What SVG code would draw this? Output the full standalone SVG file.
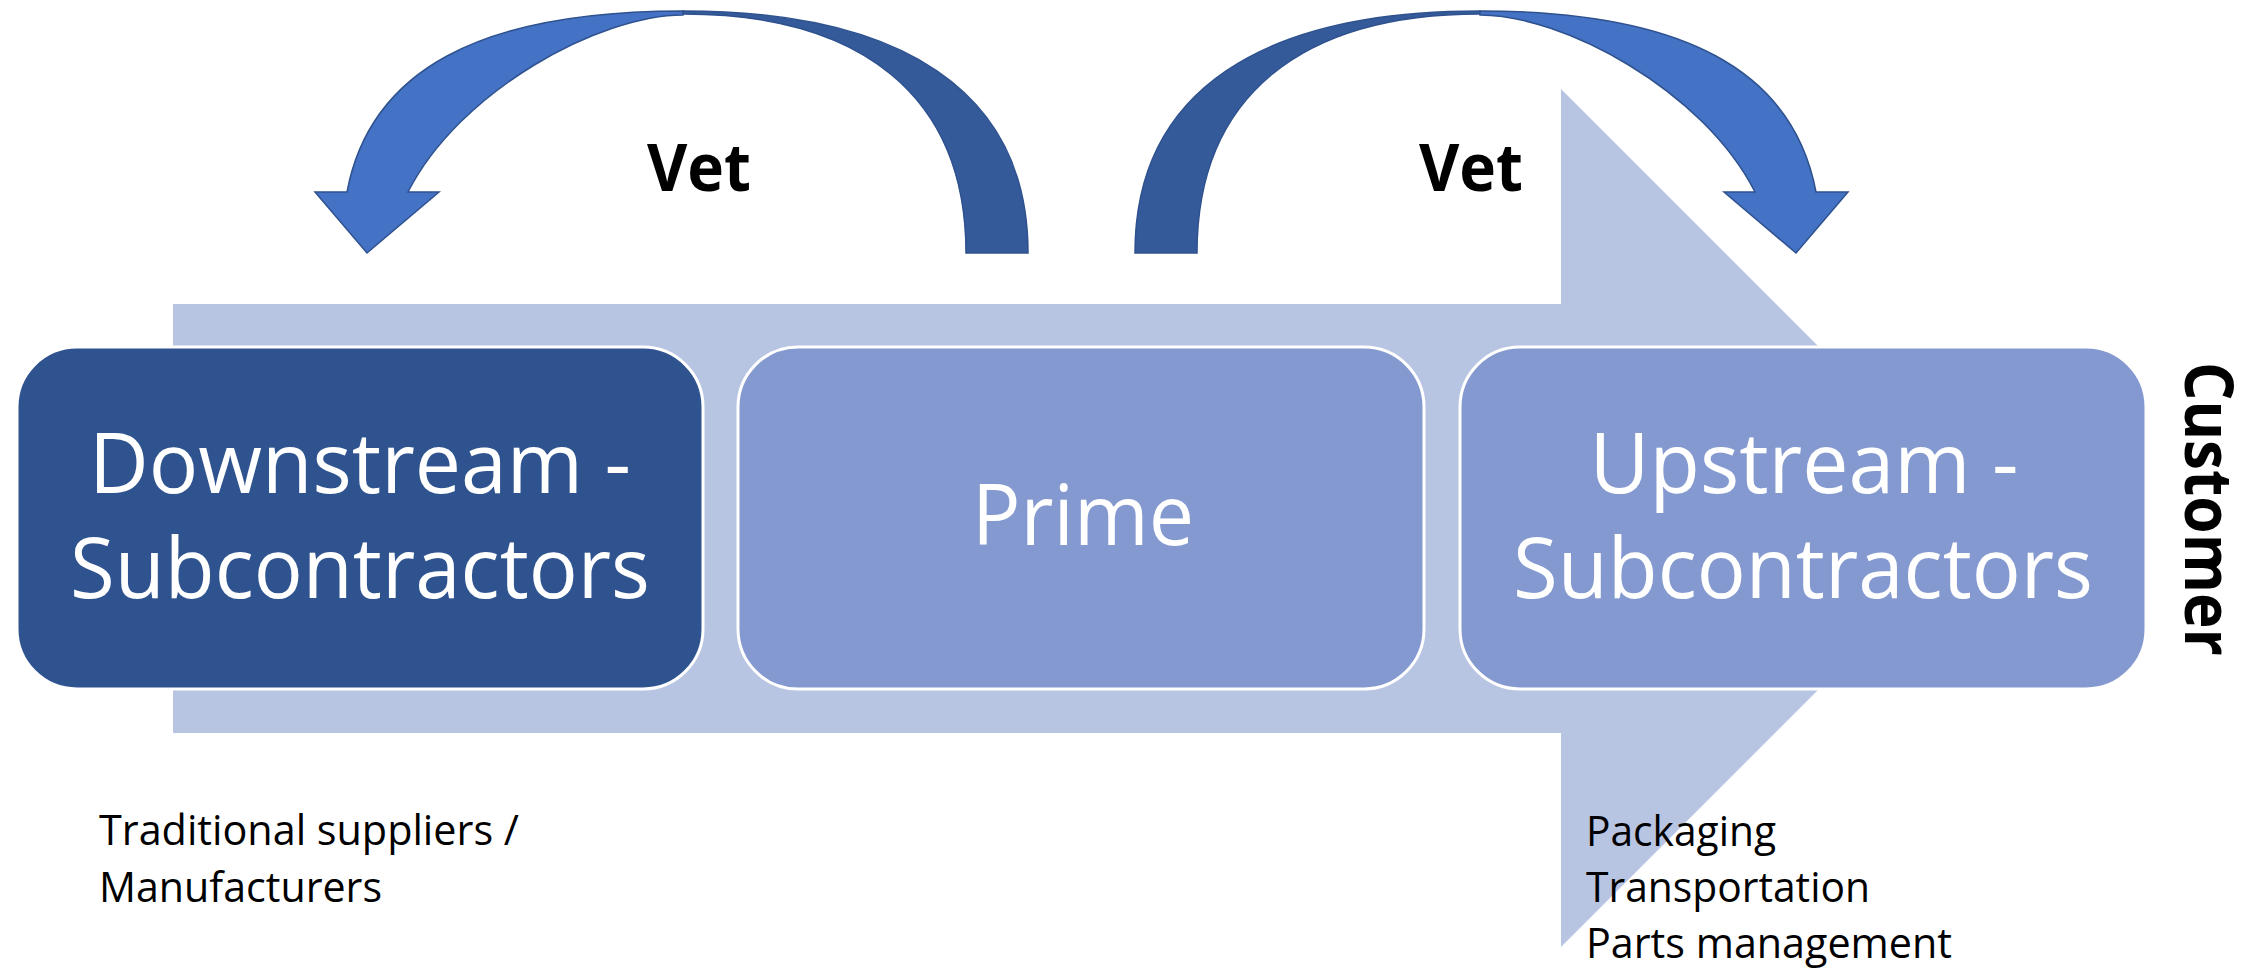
<svg xmlns="http://www.w3.org/2000/svg" width="2260" height="969" viewBox="0 0 2260 969">
  <style>
    .flow { fill: #B7C4E2; }
    .box { stroke: #FFFFFF; stroke-width: 3; }
    .dark { fill: #2F538F; }
    .mid { fill: #8499CF; }
    .lbl { font-family: "Open Sans", "Noto Sans", "Liberation Sans", sans-serif; font-size: 84px; fill: #FFFFFF; text-anchor: middle; }
    .note { font-family: "Open Sans", "Noto Sans", "Liberation Sans", sans-serif; font-size: 42px; fill: #000000; }
    .bold { font-family: "Open Sans", "Noto Sans", "Liberation Sans", sans-serif; font-weight: bold; fill: #000000; text-anchor: middle; }
    .back { fill: #355A9A; stroke: #2F528F; stroke-width: 1.5; }
    .front { fill: #4472C4; stroke: #2F528F; stroke-width: 1.5; }
  </style>
  <defs>
    <g id="curved">
      <path class="back" d="M 1028 253 C 1028 90, 900 11, 683 11 L 683 14 C 860 14, 966 95, 966 253 Z"/>
      <path class="front" d="M 683 11 C 480 11, 370 70, 347 192 L 315 192 L 367 253 L 439 192 L 408 192 C 460 90, 600 15, 683 15 Z"/>
    </g>
  </defs>
  <rect width="2260" height="969" fill="#FFFFFF"/>

  <g id="flow-arrow">
    <polygon class="flow" points="173,304 1561,304 1561,89 1990,518 1561,947 1561,733 173,733"/>
  </g>

  <g id="node-downstream">
    <rect class="box dark" x="17" y="347" width="686" height="342" rx="60" ry="60"/>
    <text class="lbl" x="360" y="493" textLength="542" lengthAdjust="spacingAndGlyphs">Downstream -</text>
    <text class="lbl" x="360" y="598" textLength="580" lengthAdjust="spacingAndGlyphs">Subcontractors</text>
  </g>

  <g id="node-prime">
    <rect class="box mid" x="738" y="347" width="686" height="342" rx="60" ry="60"/>
    <text class="lbl" x="1083" y="545" textLength="222" lengthAdjust="spacingAndGlyphs">Prime</text>
  </g>

  <g id="node-upstream">
    <rect class="box mid" x="1460" y="347" width="686" height="342" rx="60" ry="60"/>
    <text class="lbl" x="1804" y="493" textLength="429" lengthAdjust="spacingAndGlyphs">Upstream -</text>
    <text class="lbl" x="1803" y="598" textLength="580" lengthAdjust="spacingAndGlyphs">Subcontractors</text>
  </g>

  <g id="node-customer">
    <text class="bold" font-size="66" transform="translate(2185,509) rotate(90)" textLength="294" lengthAdjust="spacingAndGlyphs">Customer</text>
  </g>

  <g id="connectors">
    <use href="#curved"/>
    <use href="#curved" transform="translate(2163,0) scale(-1,1)"/>
    <text class="bold" font-size="67" x="699" y="191" textLength="104" lengthAdjust="spacingAndGlyphs">Vet</text>
    <text class="bold" font-size="67" x="1471" y="191" textLength="104" lengthAdjust="spacingAndGlyphs">Vet</text>
  </g>

  <g id="note-downstream">
    <text class="note" x="99" y="845" textLength="420" lengthAdjust="spacingAndGlyphs">Traditional suppliers /</text>
    <text class="note" x="99" y="902" textLength="283" lengthAdjust="spacingAndGlyphs">Manufacturers</text>
  </g>

  <g id="note-upstream">
    <text class="note" x="1586" y="846" textLength="190" lengthAdjust="spacingAndGlyphs">Packaging</text>
    <text class="note" x="1586" y="902" textLength="284" lengthAdjust="spacingAndGlyphs">Transportation</text>
    <text class="note" x="1586" y="958" textLength="366" lengthAdjust="spacingAndGlyphs">Parts management</text>
  </g>
</svg>
